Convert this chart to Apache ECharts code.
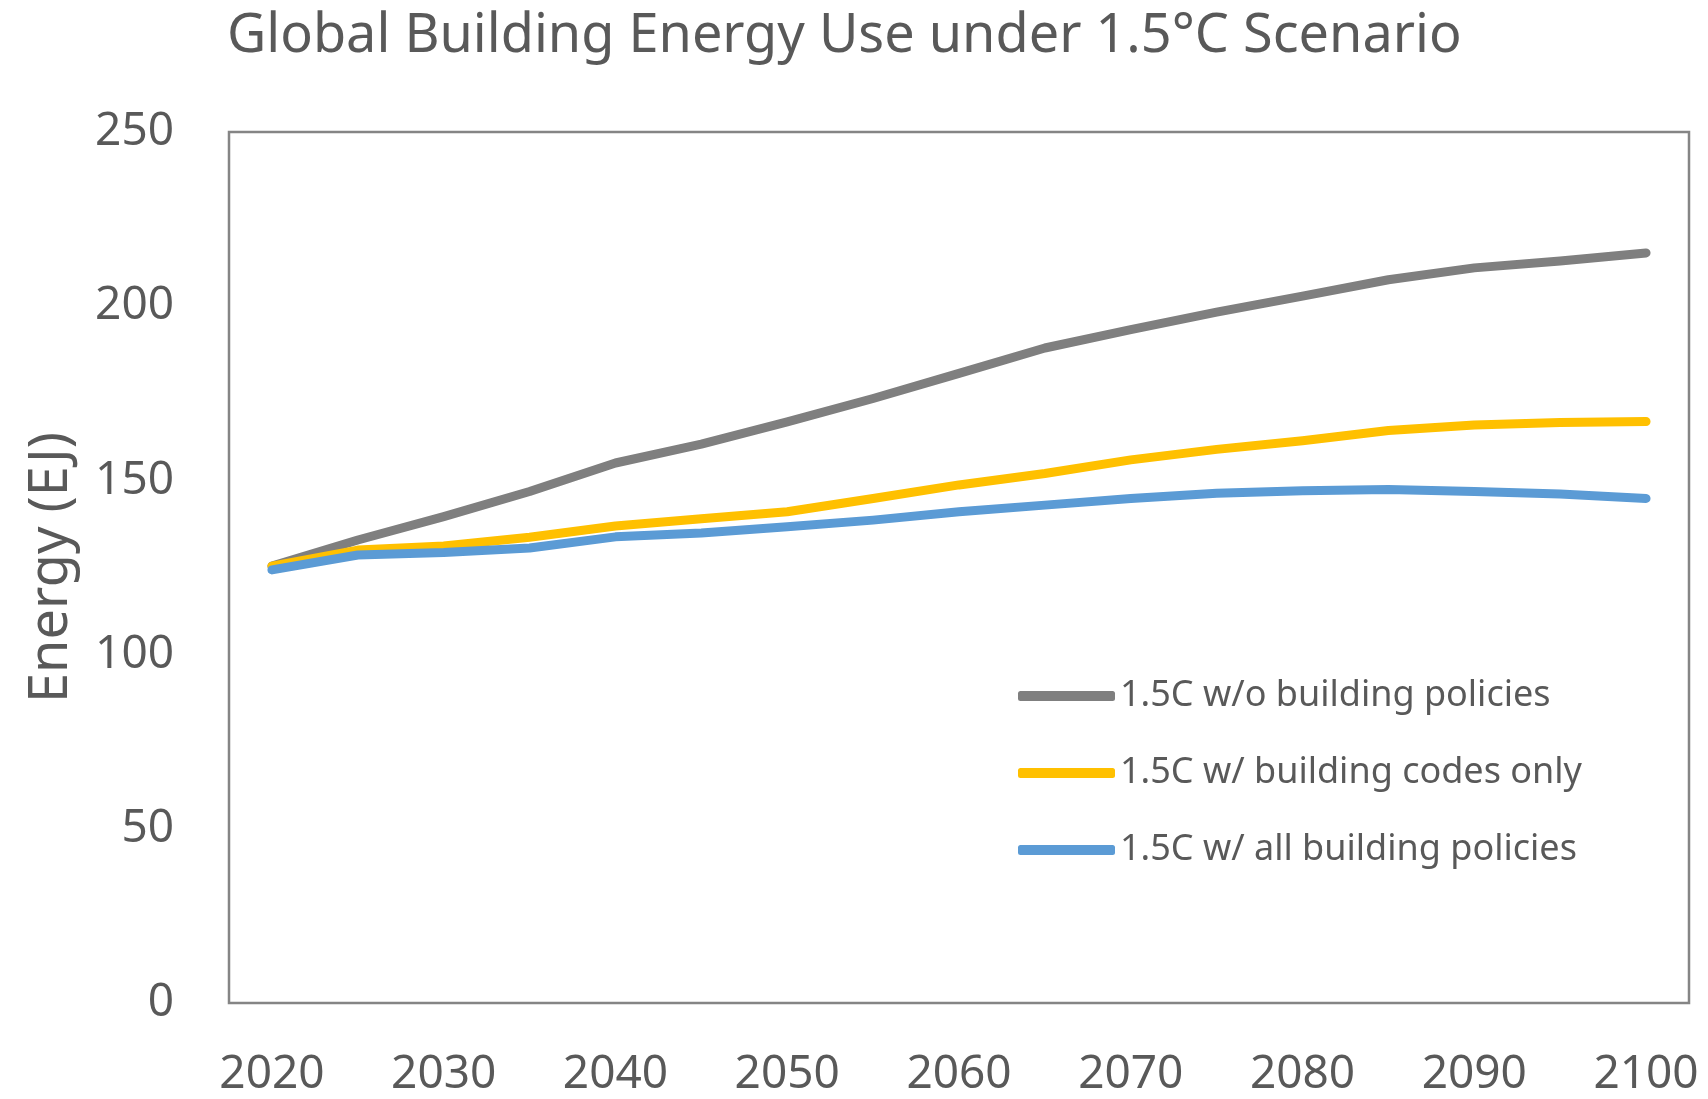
<!DOCTYPE html>
<html>
<head>
<meta charset="utf-8">
<script src="https://cdn.jsdelivr.net/npm/echarts@6/dist/echarts.min.js"></script>
<style>
html,body{margin:0;padding:0;background:#fff;}
#chart{width:1708px;height:1099px;}
</style>
</head>
<body>
<div id="chart"></div>
<script>
const years = ['2020','2025','2030','2035','2040','2045','2050','2055','2060','2065','2070','2075','2080','2085','2090','2095','2100'];
const noPolicies = [125.4,132.9,139.6,146.8,155.0,160.4,166.8,173.5,180.7,188.0,193.3,198.3,202.9,207.6,211.0,213.0,215.3];
const codesOnly = [125.4,130.0,131.2,133.7,136.9,139.0,141.0,144.8,148.7,152.0,155.9,158.9,161.4,164.3,165.9,166.6,166.9];
const allPolicies = [124.3,128.6,129.3,130.6,133.8,134.9,136.7,138.6,141.0,142.9,144.8,146.3,147.0,147.4,146.8,146.1,144.8];
const seriesNames = ['1.5C w/o building policies','1.5C w/ building codes only','1.5C w/ all building policies'];
const yTicks = {min:0, max:250, interval:50};

const font = '"Noto Sans", "Open Sans", sans-serif';
const txt = '#595959';
const chart = echarts.init(document.getElementById('chart'));
const mk = (name, data, color) => ({
  name, type:'line', data, symbol:'none', smooth:false,
  lineStyle:{color, width:9, cap:'round', join:'round'},
  itemStyle:{color}
});
chart.setOption({
  animation:false,
  backgroundColor:'#fff',
  title:{
    text:'Global Building Energy Use under 1.5°C Scenario',
    left:222, top:5,
    textStyle:{fontFamily:font, fontSize:54, fontWeight:'normal', color:txt}
  },
  grid:{left:229, right:19, top:132, bottom:96, show:true, borderColor:'#858585', borderWidth:2.5, backgroundColor:'transparent', containLabel:false},
  legend:{
    orient:'vertical', left:1013, top:671,
    itemWidth:97, itemHeight:10, itemGap:37, icon:'roundRect',
    textStyle:{fontFamily:font, fontSize:36, color:txt, lineHeight:40},
    data:seriesNames
  },
  xAxis:{
    type:'category', data:years, boundaryGap:true,
    axisLine:{show:false}, axisTick:{show:false}, splitLine:{show:false},
    axisLabel:{interval:1, fontFamily:font, fontSize:46, color:txt, margin:49}
  },
  yAxis:{
    type:'value', min:yTicks.min, max:yTicks.max, interval:yTicks.interval,
    name:'Energy (EJ)', nameLocation:'middle', nameGap:150,
    nameTextStyle:{fontFamily:font, fontSize:54, color:txt},
    axisLine:{show:false}, axisTick:{show:false}, splitLine:{show:false},
    axisLabel:{fontFamily:font, fontSize:46, color:txt, margin:55}
  },
  series:[
    mk(seriesNames[0], noPolicies, '#7f7f7f'),
    mk(seriesNames[1], codesOnly, '#ffc000'),
    mk(seriesNames[2], allPolicies, '#5b9bd5')
  ]
});
</script>
</body>
</html>
